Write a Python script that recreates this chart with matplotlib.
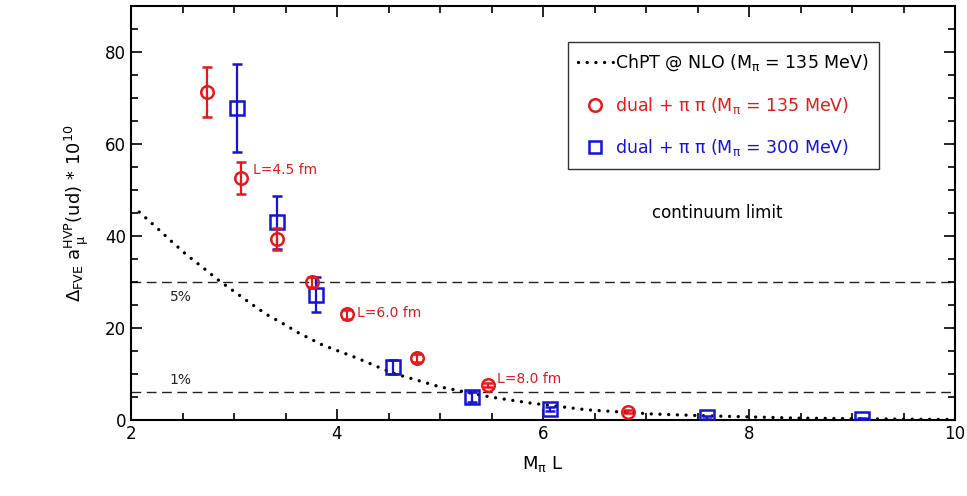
import matplotlib
matplotlib.use("Agg")
import matplotlib.pyplot as plt
from matplotlib.lines import Line2D
from matplotlib.ticker import MultipleLocator

# ChPT @ NLO curve
chpt_x = [2.08, 2.24, 2.39, 2.54, 2.70, 2.86, 3.01, 3.17, 3.32, 3.48, 3.63,
          3.86, 4.19, 4.54, 5.0, 5.49, 5.87, 6.43, 7.07, 7.6, 8.5, 9.2, 10.0]
chpt_y = [45.2, 42.0, 38.9, 35.9, 33.1, 30.2, 27.8, 25.2, 22.9, 20.9, 18.9,
          16.3, 13.5, 10.2, 7.2, 5.0, 3.7, 2.2, 1.3, 0.9, 0.4, 0.25, 0.1]

# dual + pi pi, M_pi = 135 MeV
red_x = [2.74, 3.07, 3.42, 3.76, 4.10, 4.78, 5.47, 6.83]
red_y = [71.3, 52.6, 39.3, 30.0, 23.0, 13.5, 7.6, 1.8]
red_err = [5.5, 3.5, 2.4, 1.0, 1.0, 0.8, 0.5, 0.3]

# dual + pi pi, M_pi = 300 MeV
blue_x = [3.03, 3.42, 3.80, 4.54, 5.31, 6.07, 7.59, 9.10]
blue_y = [67.8, 43.0, 27.2, 11.5, 5.0, 2.4, 0.6, 0.3]
blue_err = [9.5, 5.8, 3.8, 1.5, 1.0, 0.5, 0.3, 0.2]

# percentage reference lines
pct_levels = [30.0, 6.0]
pct_labels = ["5%", "1%"]
pct_label_y = [26.7, 8.7]

# volume annotations
ann_labels = ["L=4.5 fm", "L=6.0 fm", "L=8.0 fm"]
ann_x = [3.18, 4.19, 5.55]
ann_y = [54.3, 23.3, 8.9]

RED = "#e41a1a"
BLUE = "#1414d2"
DOTS = (0, (0.01, 2.6))

plt.rcParams['font.family'] = ['DejaVu Sans']
plt.rcParams['mathtext.fontset'] = 'dejavusans'
plt.rcParams['mathtext.default'] = 'regular'

fig = plt.figure(figsize=(9.67, 4.96), dpi=100)
ax = fig.add_axes([131/967, 76/496, 824/967, 414/496])

for lev, lab, ly in zip(pct_levels, pct_labels, pct_label_y):
    ax.axhline(lev, color="#222222", lw=1.0, ls=(0, (7, 4)), zorder=1)
    ax.text(2.48, ly, lab, fontsize=10, ha="center", va="center",
            color="#222222")

ax.plot(chpt_x, chpt_y, color="black", lw=2.4, ls=DOTS,
        dash_capstyle="round", zorder=2)

ax.errorbar(red_x, red_y, yerr=red_err, fmt="o", color=RED, mfc="none",
            mec=RED, ms=9, mew=1.8, elinewidth=1.6, capsize=3.5,
            capthick=1.6, zorder=4)
ax.errorbar(blue_x, blue_y, yerr=blue_err, fmt="s", color=BLUE, mfc="none",
            mec=BLUE, ms=10, mew=1.8, elinewidth=1.6, capsize=3.5,
            capthick=1.6, zorder=3)

for lab, x, y in zip(ann_labels, ann_x, ann_y):
    ax.text(x, y, lab, color=RED, fontsize=10, ha="left", va="center")

ax.text(7.69, 45.0, "continuum limit", fontsize=12, ha="center", va="center")

ax.set_xlim(2, 10)
ax.set_ylim(0, 90)
ax.xaxis.set_major_locator(MultipleLocator(2))
ax.xaxis.set_minor_locator(MultipleLocator(0.5))
ax.yaxis.set_major_locator(MultipleLocator(20))
ax.yaxis.set_minor_locator(MultipleLocator(5))
ax.tick_params(which="both", direction="in", top=True, right=True,
               labelsize=12, width=1.2)
ax.tick_params(which="major", length=8)
ax.tick_params(which="minor", length=5)
for s in ax.spines.values():
    s.set_linewidth(1.5)

ax.set_xlabel(r"M$_π$ L", fontsize=13, labelpad=8)
ax.set_ylabel(r"$Δ_{FVE}$ a$_{\ μ}^{HVP}$(ud) * 10$^{10}$",
              fontsize=13, labelpad=10)

handles = [
    Line2D([], [], color="black", lw=2.4, ls=DOTS, dash_capstyle="round"),
    Line2D([], [], color=RED, marker="o", ls="none", mfc="none", ms=9, mew=1.8),
    Line2D([], [], color=BLUE, marker="s", ls="none", mfc="none", ms=9, mew=1.8),
]
labels = [r"ChPT @ NLO (M$_π$ = 135 MeV)",
          r"dual + π π (M$_π$ = 135 MeV)",
          r"dual + π π (M$_π$ = 300 MeV)"]
leg = ax.legend(handles, labels, loc="upper left",
                bbox_to_anchor=(0.530, 0.913), borderaxespad=0,
                fontsize=12.5, handlelength=2.0, handletextpad=0.15,
                labelspacing=1.25, frameon=True, fancybox=False,
                borderpad=0.6)
leg.get_frame().set_edgecolor("black")
leg.get_frame().set_linewidth(1.0)
for t, c in zip(leg.get_texts(), ["black", RED, BLUE]):
    t.set_color(c)

fig.savefig("out.png", dpi=100)
